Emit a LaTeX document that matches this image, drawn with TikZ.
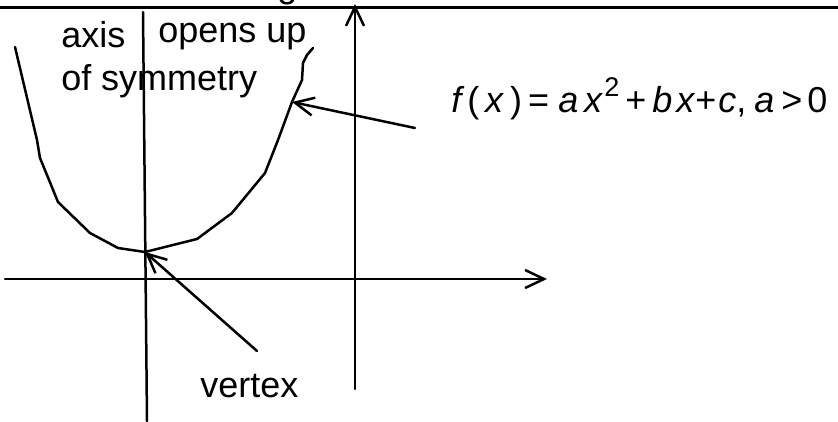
\documentclass[tikz,border=0pt]{standalone}
\usepackage{fontspec}
\setmainfont{Liberation Sans}
\usetikzlibrary{arrows.meta}
\begin{document}
\begin{tikzpicture}[x=1pt,y=-1pt,line width=2.5pt,line join=round,line cap=round,
  lbl/.style={inner sep=0pt,anchor=base west,font=\fontsize{36}{43}\selectfont},
  barb/.style={-{Straight Barb[length=19pt,width=18pt,line width=2.5pt]}}]
\useasboundingbox (0,0) rectangle (838,421);
% clipped fragment of a heading above the picture
\begin{scope}
\clip (0,0) rectangle (838,421);
\node[lbl] (frag) at (276,-3) {g};
\end{scope}
% top rule
\coordinate (rl) at (0,7);
\coordinate (rr) at (838,7);
\draw[line width=3pt,line cap=butt] (rl) -- (rr);
% axes
\coordinate (ybot) at (355,389);
\coordinate (ytop) at (355,4);
\draw[barb] (ybot) -- (ytop);
\coordinate (xl) at (5,279);
\coordinate (xr) at (547,279);
\draw[barb] (xl) -- (xr);
% axis of symmetry
\coordinate (st) at (143,12);
\coordinate (sb) at (147,421);
\draw (st) -- (sb);
% parabola
\coordinate (vtx) at (145,252);
\coordinate (pt) at (292,102);
\draw (15,47) -- (37,140) -- (40,158) -- (47,175) -- (58,202) -- (90,233)
  -- (118,248) -- (vtx) -- (197,239) -- (232,213) -- (265,173) -- (278,140)
  -- (pt) -- (302,80) -- (303,63) -- (307,55) -- (313,48);
% labels
\node[lbl] (axis) at (60,47) {axis};
\node[lbl] (sym) at (60,90) {of symmetry};
\node[lbl] (opens) at (157,42) {opens up};
\node[lbl] (vlabel) at (199,397) {vertex};
\node[lbl] (formula) at (450,112) {\itshape f\hspace{6pt}\upshape(\hspace{6pt}\itshape x\hspace{7pt}\upshape)\hspace{6pt}=\hspace{9pt}\itshape a\hspace{6pt}x\hspace{2pt}\raisebox{16pt}{\upshape\fontsize{27}{30}\selectfont 2}\hspace{6pt}\upshape+\hspace{6pt}\itshape b\hspace{4pt}x\hspace{1pt}\upshape+\hspace{2pt}\itshape c\upshape,\hspace{8pt}\itshape a\hspace{7pt}\upshape>\hspace{5pt}0};
% pointers
\coordinate (ftail) at (415,128);
\draw[barb] (ftail) -- (pt);
\coordinate (vtail) at (257,351);
\draw[barb] (vtail) -- (vtx);
\end{tikzpicture}
\end{document}
